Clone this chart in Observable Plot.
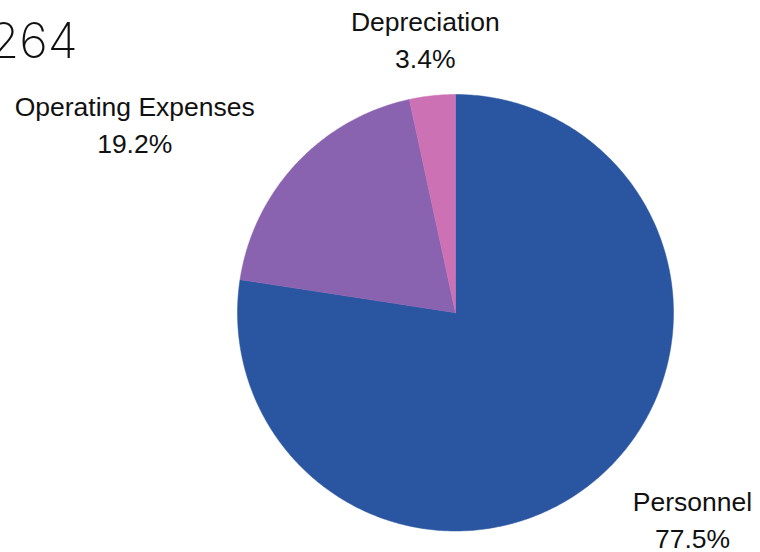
<!DOCTYPE html>
<html>
<head>
<meta charset="utf-8">
<script src="https://cdn.jsdelivr.net/npm/d3@7"></script>
<script src="https://cdn.jsdelivr.net/npm/@observablehq/plot@0.6"></script>
<style>
  html, body { margin: 0; padding: 0; background: #fff; }
  #wrap { position: relative; width: 760px; height: 552px; overflow: hidden; }
  #big { position: absolute; left: -11px; top: 13px; width: 76px; text-align: right;
         font-family: Inter, "Open Sans", sans-serif; font-weight: 200; font-size: 49px;
         line-height: 56px; color: #111; white-space: nowrap; }
  #chart { position: absolute; left: 0; top: 0; }
</style>
</head>
<body>
<div id="wrap">
  <div id="chart"></div>
  <div id="big">264</div>
</div>
<script>
const categories = ["Personnel", "Operating Expenses", "Depreciation"];
const values = [77.5, 19.2, 3.4];
const percentLabels = ["77.5%", "19.2%", "3.4%"];
const colors = ["#2A56A1", "#8A63B0", "#CC71B4"];

const pie = d3.pie().sort(null).startAngle(0).endAngle(2 * Math.PI)(values);

// slice outlines as polygons in unit-circle coordinates (y up, angle clockwise from top)
const slicePts = [];
pie.forEach((s, i) => {
  const n = Math.max(4, Math.ceil((s.endAngle - s.startAngle) / 0.01));
  slicePts.push({cat: categories[i], x: 0, y: 0, k: 0});
  for (let j = 0; j <= n; j++) {
    const a = s.startAngle + (s.endAngle - s.startAngle) * j / n;
    slicePts.push({cat: categories[i], x: Math.sin(a), y: Math.cos(a), k: j + 1});
  }
  slicePts.push({cat: categories[i], x: 0, y: 0, k: n + 2});
});

const labels = pie.map((s, i) => {
  const a = (s.startAngle + s.endAngle) / 2;
  return {cat: categories[i], text: categories[i] + "\n" + percentLabels[i], x: Math.sin(a), y: Math.cos(a)};
});

const textStyle = {
  fontSize: 26.5, fontFamily: "'Liberation Sans', Arial, sans-serif", fill: "#111",
  textAnchor: "middle", lineAnchor: "middle", lineHeight: 1.4
};

const plot = Plot.plot({
  width: 760, height: 552,
  margin: 0,
  x: {domain: [-1, 1], range: [237, 673], axis: null},
  y: {domain: [-1, 1], range: [530.5, 94], axis: null},
  color: {domain: categories, range: colors},
  style: {background: "transparent", overflow: "visible"},
  marks: [
    Plot.line(slicePts, {x: "x", y: "y", z: "cat", fill: "cat", stroke: "cat", strokeWidth: 0.5, curve: "linear"}),
    Plot.text(labels.filter(d => d.cat === "Personnel"), {x: "x", y: "y", text: "text", dx: 95, dy: 39, ...textStyle}),
    Plot.text(labels.filter(d => d.cat === "Operating Expenses"), {x: "x", y: "y", text: "text", dx: -162, dy: -41, ...textStyle}),
    Plot.text(labels.filter(d => d.cat === "Depreciation"), {x: "x", y: "y", text: "text", dx: -7, dy: -58, ...textStyle})
  ]
});
document.getElementById("chart").appendChild(plot);
</script>
</body>
</html>
